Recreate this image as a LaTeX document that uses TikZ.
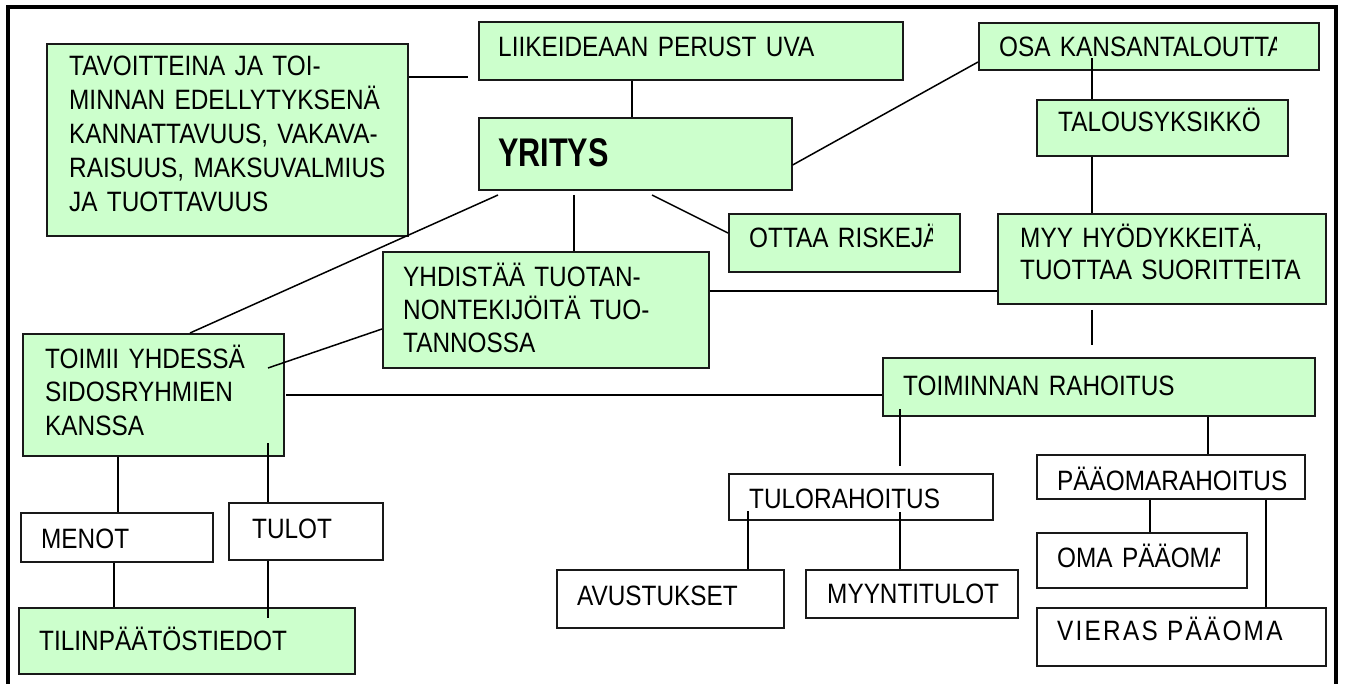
\documentclass[tikz,border=0pt]{standalone}
\usepackage{fontspec}
\setmainfont{Liberation Sans}[FakeStretch=0.87]
\definecolor{boxgreen}{HTML}{CCFFCC}
\tikzset{
  box/.style={draw=black!90, line width=1.6pt, inner sep=0pt, anchor=north west},
  gbox/.style={box, fill=boxgreen},
  wbox/.style={box, fill=white},
  lbl/.style={inner sep=0pt, anchor=base west, align=left, text width=420pt,
    font=\fontsize{28}{#1}\selectfont},
  lbl/.default=33.5,
  link/.style={line width=1.5pt, line cap=butt},
  frame/.style={line width=4pt, line join=miter},
}
\begin{document}
\begin{tikzpicture}[x=1pt, y=-1pt]
\useasboundingbox (0,0) rectangle (1346,684);

% outer frame, open at the bottom
\draw[frame] (8,684) -- (8,7) -- (1336,7) -- (1336,684);

% boxes
\node[gbox, minimum width=361, minimum height=192] (tav)    at (46,43)   {};
\node[gbox, minimum width=424, minimum height=58]  (lii)    at (478,21)  {};
\node[gbox, minimum width=313, minimum height=72]  (yritys) at (478,117) {};
\node[gbox, minimum width=340, minimum height=47]  (osa)    at (978,22)  {};
\node[gbox, minimum width=251, minimum height=56]  (tal)    at (1036,99) {};
\node[gbox, minimum width=328, minimum height=90]  (myy)    at (997,213) {};
\node[gbox, minimum width=231, minimum height=58]  (ott)    at (728,213) {};
\node[gbox, minimum width=326, minimum height=116] (yhd)    at (382,251) {};
\node[gbox, minimum width=261, minimum height=122] (toimii) at (22,333)  {};
\node[gbox, minimum width=432, minimum height=58]  (toim)   at (882,357) {};
\node[wbox, minimum width=264, minimum height=46]  (tulo)   at (728,473) {};
\node[wbox, minimum width=227, minimum height=58]  (avu)    at (556,569) {};
\node[wbox, minimum width=212, minimum height=48]  (myyn)   at (805,569) {};
\node[wbox, minimum width=268, minimum height=44]  (paa)    at (1036,454) {};
\node[wbox, minimum width=210, minimum height=55]  (oma)    at (1036,532) {};
\node[wbox, minimum width=289, minimum height=58]  (vie)    at (1036,607) {};
\node[wbox, minimum width=192, minimum height=49]  (menot)  at (20,512)  {};
\node[wbox, minimum width=154, minimum height=57]  (tulot)  at (228,502) {};
\node[gbox, minimum width=336, minimum height=66]  (tilin)  at (18,607)  {};

% texts
\node[lbl=34] (tav-t) at (69,76)
  {TAVOITTEINA JA TOI-\\MINNAN EDELLYTYKSENÄ\\KANNATTAVUUS, VAKAVA-\\RAISUUS, MAKSUVALMIUS\\JA TUOTTAVUUS};
\node[lbl] (lii-t) at (498,57) {LIIKEIDEAAN PERUST UVA};
\node[lbl, font=\fontsize{40}{44}\selectfont\bfseries] (yritys-t) at (498,167)
  {\scalebox{0.88}[1]{YRITYS}};
\begin{scope}
  \clip (978,22) rectangle (1276,69);
  \node[lbl] (osa-t) at (999,57) {OSA KANSANTALOUTTA};
\end{scope}
\node[lbl] (tal-t) at (1058,132) {TALOUSYKSIKKÖ};
\node[lbl=32] (myy-t) at (1020,248) {MYY HYÖDYKKEITÄ,\\TUOTTAA SUORITTEITA};
\begin{scope}
  \clip (728,213) rectangle (932,271);
  \node[lbl] (ott-t) at (749,248) {OTTAA RISKEJÄ};
\end{scope}
\node[lbl=33] (yhd-t) at (403,287) {YHDISTÄÄ TUOTAN-\\NONTEKIJÖITÄ TUO-\\TANNOSSA};
\node[lbl] (toimii-t) at (45,368) {TOIMII YHDESSÄ\\SIDOSRYHMIEN\\KANSSA};
\node[lbl] (toim-t) at (903,395) {TOIMINNAN RAHOITUS};
\node[lbl] (tulo-t) at (749,508) {TULORAHOITUS};
\node[lbl] (avu-t) at (577,605) {AVUSTUKSET};
\node[lbl] (myyn-t) at (827,603) {MYYNTITULOT};
\node[lbl] (paa-t) at (1057,490) {PÄÄOMARAHOITUS};
\begin{scope}
  \clip (1036,532) rectangle (1219,587);
  \node[lbl] (oma-t) at (1057,567) {OMA PÄÄOMA};
\end{scope}
\node[lbl] (vie-t) at (1057,640) {\addfontfeature{LetterSpace=8}VIERAS PÄÄOMA};
\node[lbl] (menot-t) at (41,548) {MENOT};
\node[lbl] (tulot-t) at (252,538) {TULOT};
\node[lbl] (tilin-t) at (39,650) {TILINPÄÄTÖSTIEDOT};

% connectors
\coordinate (tavEnd) at (468,77);
\draw[link] (tav.east |- tavEnd) -- (tavEnd);
\draw[link] (lii.south -| 632,0) -- (yritys.north -| 632,0);
\draw[link] (yritys.east |- 0,165) -- (osa.west |- 0,62);

\coordinate (osaIn) at (1092,58);
\draw[link] (osaIn) -- (tal.north -| osaIn);
\draw[link] (tal.south -| osaIn) -- (myy.north -| osaIn);
\coordinate (myyA) at (1092,310);
\coordinate (myyB) at (1092,345);
\draw[link] (myyA) -- (myyB);

\coordinate (yrA) at (574,195);
\draw[link] (yrA) -- (yhd.north -| yrA);
\coordinate (yrB) at (498,195);
\coordinate (toimiiTop) at (190,0);
\draw[link] (yrB) -- (toimii.north -| toimiiTop);
\coordinate (yrC) at (652,195);
\draw[link] (yrC) -- (ott.west |- 0,233);

\coordinate (toimiiIn) at (268,368);
\draw[link] (yhd.west |- 0,329) -- (toimiiIn);
\draw[link] (yhd.east |- 0,291) -- (myy.west |- 0,291);
\coordinate (toimiiR) at (286,395);
\draw[link] (toimiiR) -- (toim.west |- toimiiR);

\coordinate (toimIn) at (900,409);
\coordinate (tuloAbove) at (900,466);
\draw[link] (toimIn) -- (tuloAbove);
\coordinate (tuloInA) at (748,511);
\draw[link] (tuloInA) -- (avu.north -| tuloInA);
\coordinate (tuloInB) at (900,512);
\draw[link] (tuloInB) -- (myyn.north -| tuloInB);

\draw[link] (toim.south -| 1208,0) -- (paa.north -| 1208,0);
\draw[link] (paa.south -| 1150,0) -- (oma.north -| 1150,0);
\draw[link] (paa.south -| 1266,0) -- (vie.north -| 1266,0);

\draw[link] (toimii.south -| 118,0) -- (menot.north -| 118,0);
\coordinate (toimiiInB) at (268,443);
\draw[link] (toimiiInB) -- (tulot.north -| toimiiInB);
\draw[link] (menot.south -| 114,0) -- (tilin.north -| 114,0);
\coordinate (tilinIn) at (268,618);
\draw[link] (tulot.south -| tilinIn) -- (tilinIn);
\end{tikzpicture}
\end{document}
